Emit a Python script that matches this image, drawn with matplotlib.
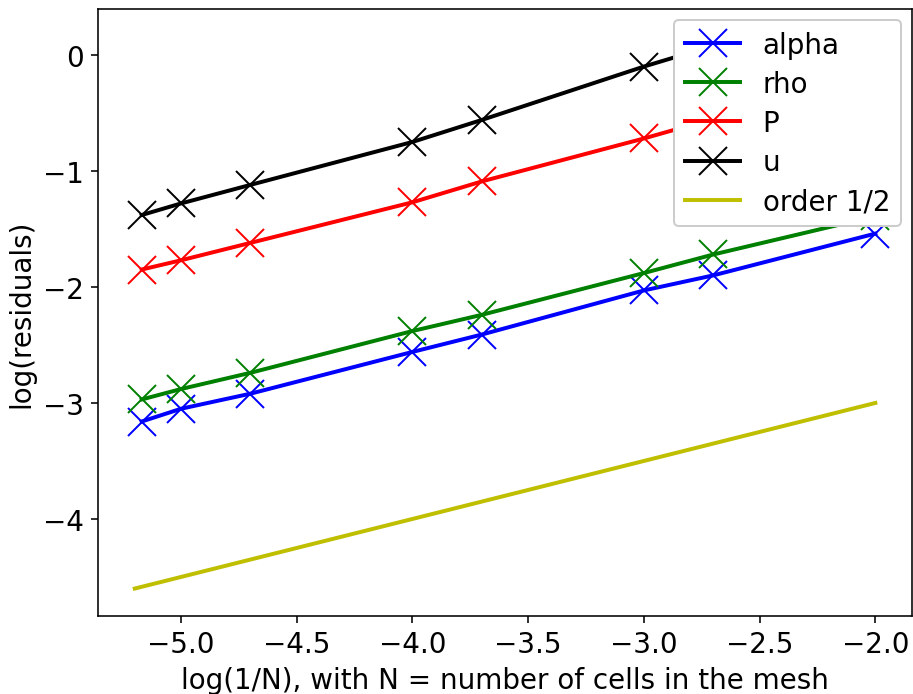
import numpy as np
import matplotlib
matplotlib.use("Agg")
import matplotlib.pyplot as plt

# ── data ─────────────────────────────────────────────────────────────────────
log_inv_n = [-5.17, -5.0, -4.7, -4.0, -3.7, -3.0, -2.7, -2.0]

alpha_res = [-3.16, -3.05, -2.92, -2.56, -2.41, -2.03, -1.90, -1.54]
rho_res   = [-2.97, -2.88, -2.74, -2.38, -2.24, -1.88, -1.72, -1.39]
p_res     = [-1.85, -1.77, -1.62, -1.27, -1.09, -0.72, -0.55, -0.22]
u_res     = [-1.38, -1.28, -1.12, -0.75, -0.56, -0.10, 0.08, 0.16]

order_x = [-5.2, -2.0]
order_y = [-4.6, -3.0]

# ── plot ─────────────────────────────────────────────────────────────────────
plt.rcParams['font.size'] = 14

fig, ax = plt.subplots(figsize=(6.4, 4.87), dpi=142.7)

ax.plot(log_inv_n, alpha_res, 'b-x', lw=2, ms=14, label='alpha')
ax.plot(log_inv_n, rho_res, 'g-x', lw=2, ms=14, label='rho')
ax.plot(log_inv_n, p_res, 'r-x', lw=2, ms=14, label='P')
ax.plot(log_inv_n, u_res, 'k-x', lw=2, ms=14, label='u')
ax.plot(order_x, order_y, 'y-', lw=2, label='order 1/2')

ax.set_xlabel("log(1/N), with N = number of cells in the mesh")
ax.set_ylabel("log(residuals)")
ax.legend(loc='upper right', framealpha=1, labelspacing=0.4, borderaxespad=0.4)

fig.subplots_adjust(left=0.107, right=0.999, top=0.986, bottom=0.112)
fig.savefig("out.png")
